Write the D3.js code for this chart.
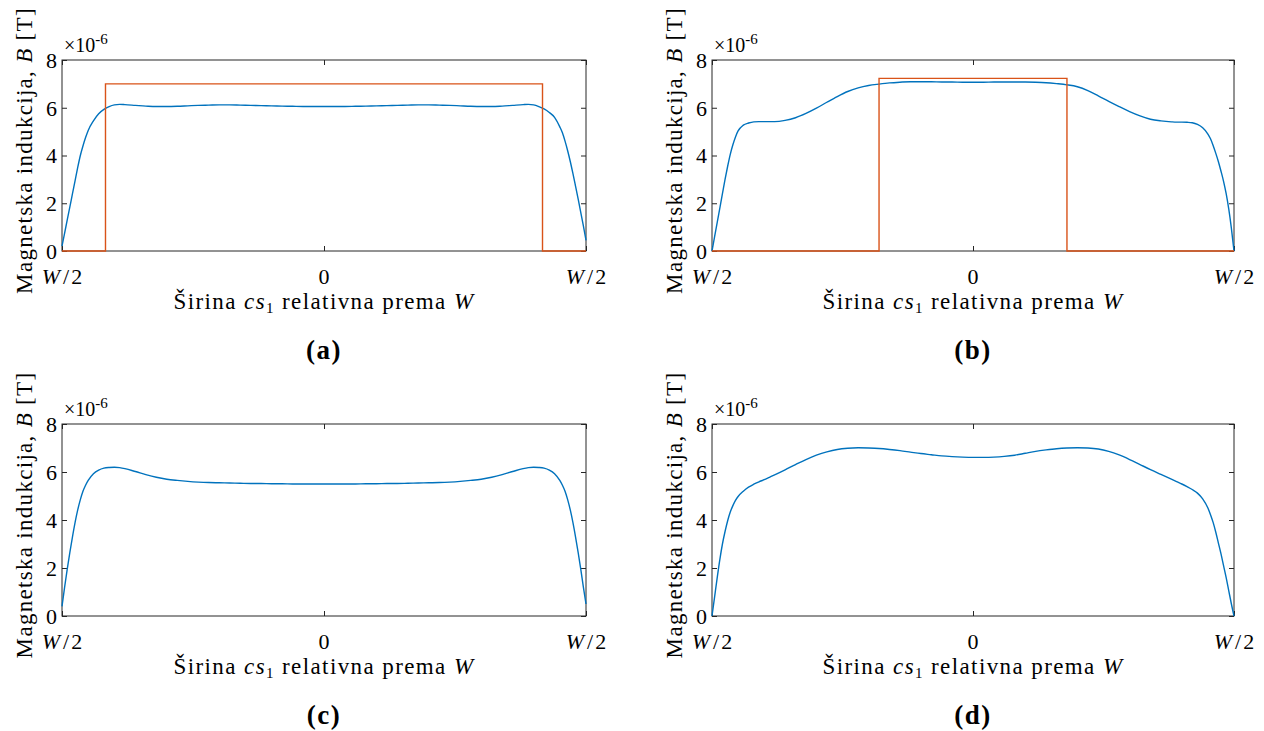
<!DOCTYPE html>
<html><head><meta charset="utf-8">
<script src="https://cdn.jsdelivr.net/npm/d3@7"></script>
<style>
html,body{margin:0;padding:0;background:#fff;}
svg{display:block;}
svg text{font-family:"Liberation Serif","DejaVu Serif","Noto Serif",serif !important;fill:#000;}
</style></head><body>
<svg id="chart" width="1264" height="731"></svg>
<script>
// ---- data ----
const xGrid = [-0.5,-0.495,-0.49,-0.485,-0.48,-0.475,-0.47,-0.465,-0.46,-0.455,-0.45,-0.44,-0.43,-0.42,-0.41,-0.40,-0.39,-0.38,-0.36,-0.34,-0.32,-0.30,-0.28,-0.26,-0.24,-0.22,-0.20,-0.18,-0.16,-0.14,-0.12,-0.10,-0.08,-0.06,-0.04,-0.02,
  0,
  0.02,0.04,0.06,0.08,0.10,0.12,0.14,0.16,0.18,0.20,0.22,0.24,0.26,0.28,0.30,0.32,0.34,0.36,0.38,0.39,0.40,0.41,0.42,0.43,0.44,0.45,0.455,0.46,0.465,0.47,0.475,0.48,0.485,0.49,0.495,0.5];

const fieldA = [0.2,0.75,1.3,1.85,2.4,2.95,3.5,4.0,4.4,4.75,5.05,5.45,5.75,5.93,6.05,6.12,6.14,6.13,6.1,6.07,6.05,6.05,6.06,6.08,6.1,6.11,6.12,6.12,6.11,6.1,6.09,6.08,6.07,6.06,6.05,6.05,
  6.05,
  6.05,6.05,6.06,6.07,6.08,6.09,6.1,6.11,6.12,6.12,6.11,6.1,6.08,6.06,6.05,6.05,6.07,6.1,6.13,6.14,6.12,6.05,5.95,5.8,5.6,5.2,4.95,4.6,4.2,3.75,3.25,2.72,2.18,1.62,1.05,0.45];

const fieldB = [0,0.6,1.2,1.8,2.4,3.0,3.55,4.05,4.45,4.78,5.03,5.27,5.36,5.41,5.42,5.42,5.42,5.42,5.47,5.58,5.76,5.98,6.23,6.47,6.68,6.83,6.93,6.99,7.04,7.07,7.09,7.09,7.09,7.08,7.08,7.07,
  7.07,
  7.07,7.08,7.08,7.08,7.08,7.07,7.05,7.01,6.96,6.88,6.72,6.5,6.27,6.05,5.84,5.66,5.52,5.45,5.41,5.4,5.4,5.39,5.37,5.3,5.16,4.9,4.7,4.42,4.1,3.75,3.35,2.92,2.4,1.75,0.95,0];

const fieldC = [0.4,1.2,1.95,2.65,3.3,3.9,4.42,4.85,5.2,5.45,5.65,5.93,6.08,6.16,6.19,6.2,6.18,6.14,6.02,5.89,5.78,5.7,5.65,5.61,5.58,5.56,5.55,5.54,5.53,5.52,5.52,5.51,5.51,5.5,5.5,5.5,
  5.5,
  5.5,5.5,5.5,5.51,5.51,5.52,5.52,5.53,5.54,5.55,5.56,5.58,5.61,5.65,5.7,5.78,5.89,6.02,6.14,6.18,6.2,6.19,6.16,6.08,5.93,5.65,5.45,5.2,4.85,4.42,3.9,3.3,2.65,1.95,1.2,0.5];

const fieldD = [0,0.8,1.6,2.35,3.0,3.52,3.97,4.33,4.6,4.82,4.98,5.2,5.37,5.49,5.59,5.68,5.78,5.88,6.09,6.31,6.52,6.7,6.84,6.94,6.99,7.01,7.0,6.98,6.94,6.89,6.83,6.77,6.72,6.67,6.64,6.62,
  6.61,
  6.61,6.62,6.65,6.7,6.78,6.86,6.92,6.97,7.0,7.01,7.0,6.96,6.86,6.71,6.52,6.31,6.1,5.9,5.7,5.6,5.5,5.39,5.27,5.12,4.88,4.5,4.22,3.9,3.5,3.05,2.6,2.1,1.6,1.05,0.5,0];

const stepAx = [-0.5,-0.417,-0.417,0.417,0.417,0.5];
const stepAy = [0,0,7.0,7.0,0,0];
const stepBx = [-0.5,-0.18,-0.18,0.18,0.18,0.5];
const stepBy = [0,0,7.23,7.23,0,0];

const yTicks = [0,2,4,6,8];
const xTicks = [-0.5,0,0.5];
const xTickLabels = ["W/2","0","W/2"];
const panelLetters = ["(a)","(b)","(c)","(d)"];

// ---- layout ----
const BLUE = "#0072BD", RED = "#D95319", AXC = "#262626";
const FONT = '"Liberation Serif","DejaVu Serif","Noto Serif",serif';
const panels = [
  {x0:62, x1:586, top:60, bot:251, blue:fieldA, rx:stepAx, ry:stepAy, letter:panelLetters[0]},
  {x0:712, x1:1234, top:60, bot:251, blue:fieldB, rx:stepBx, ry:stepBy, letter:panelLetters[1]},
  {x0:62, x1:586, top:424, bot:616, blue:fieldC, rx:null, ry:null, letter:panelLetters[2]},
  {x0:712, x1:1234, top:424, bot:616, blue:fieldD, rx:null, ry:null, letter:panelLetters[3]}
];

const svg = d3.select("#chart");

panels.forEach(p => {
  const x = d3.scaleLinear().domain([-0.5,0.5]).range([p.x0,p.x1]);
  const y = d3.scaleLinear().domain([0,8]).range([p.bot,p.top]);
  const g = svg.append("g");
  const tk = 5;

  const left = g.append("g").attr("transform",`translate(${p.x0},0)`)
    .call(d3.axisLeft(y).tickValues(yTicks).tickSizeInner(-tk).tickSizeOuter(0).tickPadding(5).tickFormat(d3.format("d")));
  left.attr("font-family",FONT).selectAll("text").attr("font-size",22).attr("font-family",FONT).attr("dy","0.34em");
  g.append("g").attr("transform",`translate(${p.x1},0)`)
    .call(d3.axisRight(y).tickValues(yTicks).tickSizeInner(-tk).tickSizeOuter(0).tickFormat(""));
  g.append("g").attr("transform",`translate(0,${p.bot})`)
    .call(d3.axisBottom(x).tickValues(xTicks).tickSizeInner(-tk).tickSizeOuter(0).tickFormat(""));
  g.append("g").attr("transform",`translate(0,${p.top})`)
    .call(d3.axisTop(x).tickValues(xTicks).tickSizeInner(-tk).tickSizeOuter(0).tickFormat(""));
  g.selectAll(".domain").remove();
  g.selectAll(".tick line").attr("stroke",AXC);

  g.append("rect").attr("x",p.x0).attr("y",p.top).attr("width",p.x1-p.x0).attr("height",p.bot-p.top)
    .attr("fill","none").attr("stroke",AXC).attr("stroke-width",1);

  xTicks.forEach((v,i) => {
    const t = g.append("text").attr("x",x(v)).attr("y",p.bot+33).attr("text-anchor","middle")
      .attr("font-size",22).attr("font-family",FONT);
    if (xTickLabels[i].startsWith("W")) {
      t.append("tspan").attr("font-style","italic").text("W");
      t.append("tspan").attr("dx",3).text("/");
      t.append("tspan").attr("dx",2).text("2");
    } else t.text(xTickLabels[i]);
  });

  const m = g.append("text").attr("x",p.x0+2).attr("y",p.top-8).attr("font-size",20).attr("font-family",FONT);
  m.append("tspan").text("×10");
  m.append("tspan").attr("dy",-8).attr("font-size",15).text("-6");

  const xl = g.append("text").attr("x",(p.x0+p.x1)/2).attr("y",p.bot+58).attr("text-anchor","middle")
    .attr("font-size",23).attr("letter-spacing",1.4).attr("font-family",FONT);
  xl.append("tspan").text("Širina ");
  xl.append("tspan").attr("font-style","italic").text("cs");
  xl.append("tspan").attr("font-size",15).attr("dy",4).text("1");
  xl.append("tspan").attr("dy",-4).text(" relativna prema ");
  xl.append("tspan").attr("font-style","italic").text("W");

  const yl = g.append("text").attr("transform",`translate(${p.x0-30},${(p.top+p.bot)/2 - 5}) rotate(-90)`)
    .attr("text-anchor","middle").attr("font-size",23).attr("letter-spacing",1.3).attr("font-family",FONT);
  yl.append("tspan").text("Magnetska indukcija, ");
  yl.append("tspan").attr("font-style","italic").text("B");
  yl.append("tspan").text(" [T]");

  g.append("text").attr("x",(p.x0+p.x1)/2).attr("y",p.bot+108).attr("text-anchor","middle")
    .attr("font-size",27).attr("letter-spacing",1.5).attr("font-weight","bold").attr("font-family",FONT).text(p.letter);

  const line = d3.line().x(d=>x(d[0])).y(d=>y(d[1])).curve(d3.curveMonotoneX);
  g.append("path").datum(xGrid.map((v,i)=>[v,p.blue[i]])).attr("d",line)
    .attr("fill","none").attr("stroke",BLUE).attr("stroke-width",1.4);
  if (p.rx) {
    const sl = d3.line().x(d=>x(d[0])).y(d=>y(d[1]));
    g.append("path").datum(p.rx.map((v,i)=>[v,p.ry[i]])).attr("d",sl)
      .attr("fill","none").attr("stroke",RED).attr("stroke-width",1.4);
  }
});
</script>
</body></html>
